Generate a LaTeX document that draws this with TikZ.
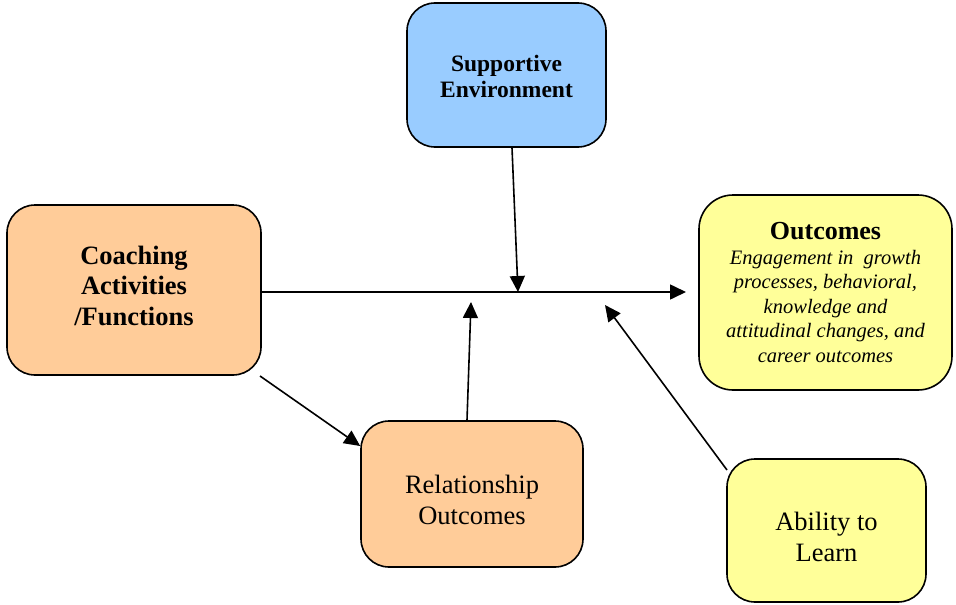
\documentclass[tikz,border=0pt]{standalone}
\usepackage{fontspec}
\setmainfont{Liberation Serif}
\usetikzlibrary{arrows.meta}
\definecolor{bluec}{HTML}{99CCFF}
\definecolor{orangec}{HTML}{FFCC99}
\definecolor{yellowc}{HTML}{FFFF99}
\newcommand{\boxlines}[2]{\raisebox{#1}[0pt][0pt]{\begin{tabular}[t]{@{}c@{}}#2\end{tabular}}}
\begin{document}
\begin{tikzpicture}[x=1pt,y=-1pt,
  box/.style={draw=black, line width=1.6pt, rounded corners=28pt, align=center, inner sep=0pt},
  conn/.style={line width=1.6pt, -{Triangle[length=16pt,width=15pt]}}
]
\useasboundingbox (0,0) rectangle (956,605);
\node[box, fill=bluec, minimum width=199pt, minimum height=144pt, font=\fontsize{23.5}{26.5}\selectfont\bfseries] (sup) at (506.5,75) {\boxlines{4pt}{Supportive\\Environment}};
\node[box, fill=orangec, minimum width=254pt, minimum height=170pt, font=\fontsize{26.5}{30.5}\selectfont\bfseries] (coach) at (134,290) {\boxlines{26pt}{Coaching\\Activities\\/Functions}};
\node[box, fill=yellowc, minimum width=253pt, minimum height=195pt, rounded corners=34pt, font=\fontsize{20.5}{24.5}\selectfont\itshape] (out) at (825.5,292.5) {{\fontsize{26}{30}\selectfont\bfseries\upshape Outcomes}\\Engagement in\ \ growth\\processes, behavioral,\\knowledge and\\attitudinal changes, and\\career outcomes};
\node[box, fill=orangec, minimum width=222pt, minimum height=146pt, font=\fontsize{26.5}{31}\selectfont] (rel) at (472,494) {\boxlines{1pt}{Relationship\\Outcomes}};
\node[box, fill=yellowc, minimum width=199pt, minimum height=143pt, font=\fontsize{26.5}{31}\selectfont] (abl) at (826.5,530.5) {\boxlines{0pt}{Ability to\\Learn}};
\coordinate (mainend) at (686,292);
\coordinate (supend) at (518,292);
\coordinate (relend) at (471,302);
\coordinate (ablend) at (605,305);
\draw[conn] (coach.east |- mainend) -- (mainend);
\draw[conn] (sup.south -| 512,0) -- (supend);
\draw[conn] (rel.north -| 467,0) -- (relend);
\draw[conn] (727,470) -- (ablend);
\draw[conn] (260,376) -- (rel.west |- 0,446);
\end{tikzpicture}
\end{document}
